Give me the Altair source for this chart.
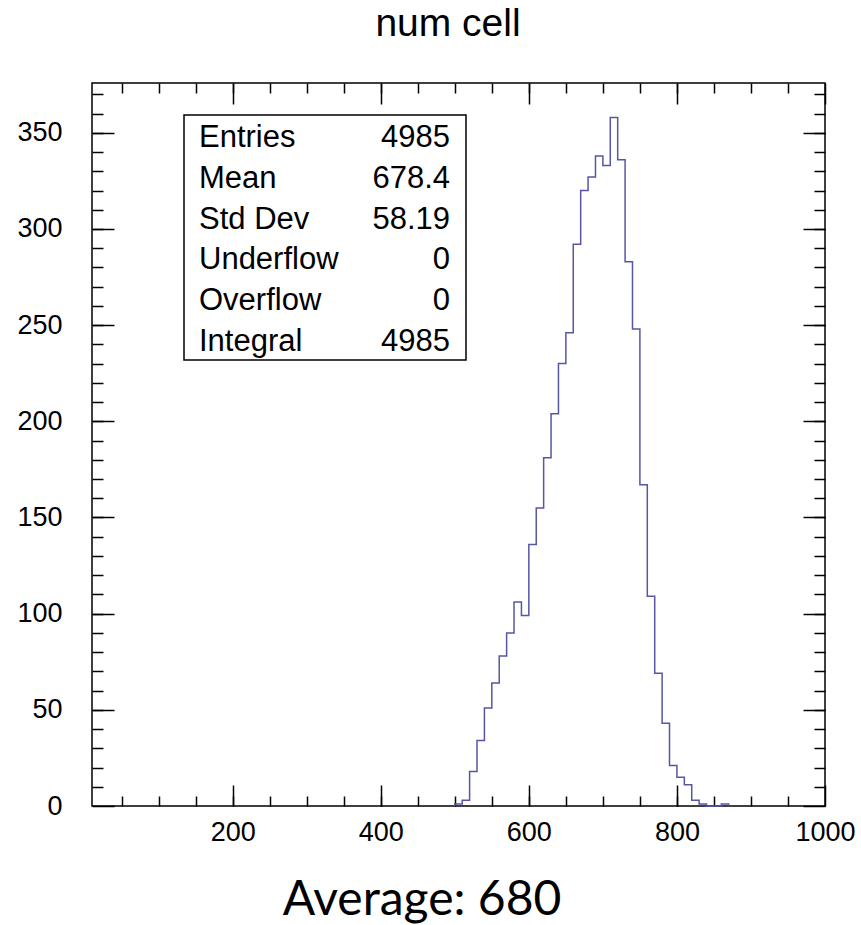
import altair as alt
import pandas as pd

# ---- data ----
bin_left = [500, 510, 520, 530, 540, 550, 560, 570, 580, 590,
            600, 610, 620, 630, 640, 650, 660, 670, 680, 690,
            700, 710, 720, 730, 740, 750, 760, 770, 780, 790,
            800, 810, 820, 830, 840, 850, 860]
counts = [1, 3, 18, 34, 51, 64, 78, 90, 106, 99,
          136, 155, 181, 204, 230, 246, 292, 320, 327, 338,
          333, 358, 336, 283, 248, 167, 109, 69, 43, 21,
          15, 11, 3, 1, 0, 0, 1]
bin_width = 10
x_range = [10, 1000]
y_max = 375.9

x_major = [200, 400, 600, 800, 1000]
x_minor = [50, 100, 150, 200, 250, 300, 350, 400, 450, 500, 550, 600,
           650, 700, 750, 800, 850, 900, 950]
y_major = [0, 50, 100, 150, 200, 250, 300, 350]
y_minor = [10, 20, 30, 40, 50, 60, 70, 80, 90, 100, 110, 120, 130, 140,
           150, 160, 170, 180, 190, 200, 210, 220, 230, 240, 250, 260,
           270, 280, 290, 300, 310, 320, 330, 340, 350, 360, 370]

stat_names = ["Entries", "Mean", "Std Dev", "Underflow", "Overflow", "Integral"]
stat_values = ["4985", "678.4", "58.19", "0", "0", "4985"]

title_text = "num cell"
footer_text = "Average: 680"

# ---- layout ----
W, H = 733, 723
PAD_L, PAD_T = 92, 83
FONT = "Liberation Sans"
LINE_COLOR = "#5656a6"

# step outline of the histogram
xs, ys, order = [bin_left[0]], [0], [0]
for i, (l, c) in enumerate(zip(bin_left, counts)):
    xs.append(l)
    ys.append(c)
    order.append(i + 1)
xs.append(bin_left[-1] + bin_width)
ys.append(0)
order.append(len(order))
hist = pd.DataFrame({"x": xs, "y": ys, "o": order})

xscale = alt.Scale(domain=x_range, nice=False, zero=False)
yscale = alt.Scale(domain=[0, y_max], nice=False, zero=True)

label_x_axis = alt.Axis(orient="bottom", values=x_major, format="d", tickSize=0,
                        domain=False, grid=False, title=None, labelFont=FONT,
                        labelFontSize=27, labelColor="black", labelPadding=13,
                        labelFlush=False)
label_y_axis = alt.Axis(orient="left", values=y_major, format="d", tickSize=0,
                        domain=False, grid=False, title=None, labelFont=FONT,
                        labelFontSize=27, labelColor="black", labelPadding=30)

line = alt.Chart(hist).mark_line(
    interpolate="step-after", color=LINE_COLOR, strokeWidth=1.5
).encode(
    x=alt.X("x:Q", scale=xscale, axis=label_x_axis),
    y=alt.Y("y:Q", scale=yscale, axis=label_y_axis),
    order="o:Q",
)


def tick_axis(orient, values, size, offset):
    return alt.Axis(orient=orient, values=values, tickSize=size, offset=offset,
                    labels=False, domain=False, grid=False, title=None,
                    tickColor="black", tickWidth=1.5)


def ghost(xa, ya):
    return alt.Chart(hist).mark_line(opacity=0).encode(
        x=alt.X("x:Q", scale=xscale, axis=xa),
        y=alt.Y("y:Q", scale=yscale, axis=ya),
    )


ghosts = [
    ghost(tick_axis("top", x_major, 21, -H), tick_axis("right", y_major, 22, -W)),
    ghost(tick_axis("bottom", x_major, 21, -H), tick_axis("left", y_major, 22, -W)),
    ghost(tick_axis("top", x_minor, 10, -H), tick_axis("right", y_minor, 11, -W)),
    ghost(tick_axis("bottom", x_minor, 10, -H), tick_axis("left", y_minor, 11, -W)),
]

one = pd.DataFrame({"k": [0]})

box = alt.Chart(one).mark_rect(fill="white", stroke="black", strokeWidth=1.5).encode(
    x=alt.value(92), x2=alt.value(374), y=alt.value(32), y2=alt.value(277)
)

texts = []
for i, (n, v) in enumerate(zip(stat_names, stat_values)):
    yb = 64 + i * 40.8
    texts.append(alt.Chart(one).mark_text(
        align="left", baseline="alphabetic", font=FONT, fontSize=31, color="black"
    ).encode(x=alt.value(107), y=alt.value(yb), text=alt.value(n)))
    texts.append(alt.Chart(one).mark_text(
        align="right", baseline="alphabetic", font=FONT, fontSize=31, color="black"
    ).encode(x=alt.value(358), y=alt.value(yb), text=alt.value(v)))

title = alt.Chart(one).mark_text(
    align="center", baseline="alphabetic", font=FONT, fontSize=39, color="black"
).encode(x=alt.value(356), y=alt.value(-47), text=alt.value(title_text))

footer = alt.Chart(one).mark_text(
    align="center", baseline="alphabetic", font="Lato", fontSize=48, color="black"
).encode(x=alt.value(330), y=alt.value(832), text=alt.value(footer_text))

chart = alt.layer(line, *ghosts, box, *texts, title, footer).properties(
    width=W, height=H,
    autosize=alt.AutoSizeParams(type="none"),
    padding={"left": PAD_L, "top": PAD_T, "right": 861 - PAD_L - W, "bottom": 925 - PAD_T - H},
    background="white",
).configure_view(stroke="black", strokeWidth=1.5)

chart.save("out.html", embed_options={"renderer": "svg", "actions": False})
